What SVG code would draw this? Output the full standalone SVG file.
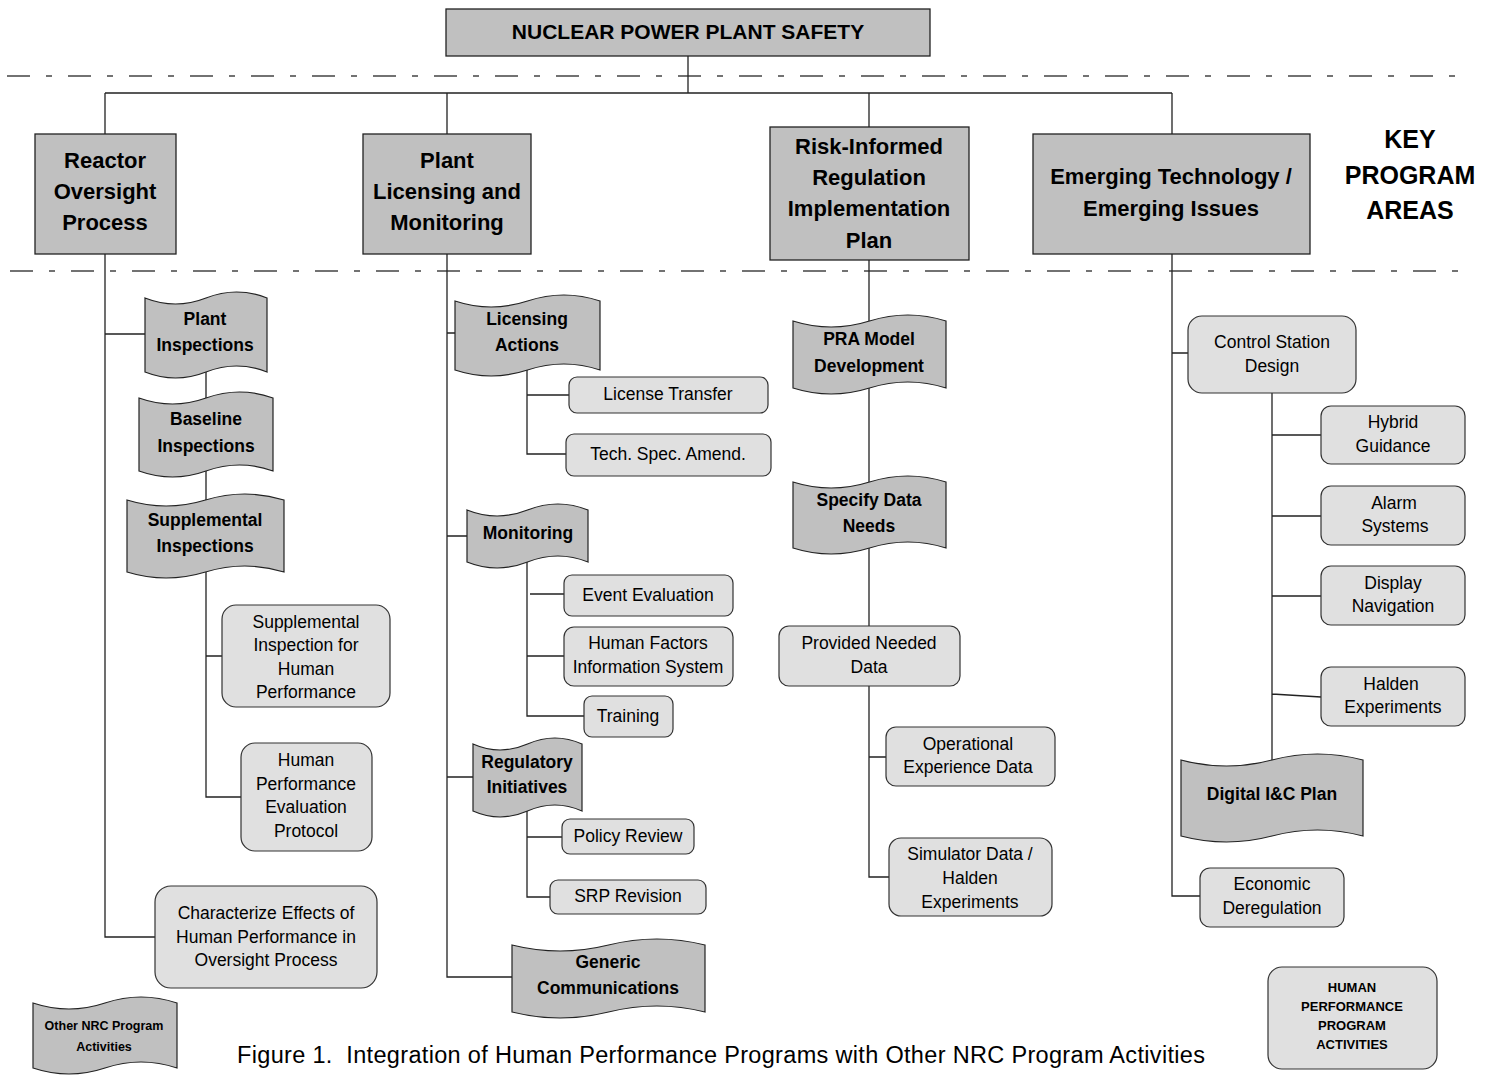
<svg xmlns="http://www.w3.org/2000/svg" width="1486" height="1078" viewBox="0 0 1486 1078">
<style>
.k{fill:#c0c0c0;stroke:#222;stroke-width:1.3}
.d{fill:#c0c0c0;stroke:#222;stroke-width:1.2}
.r{fill:#e0e0e0;stroke:#333;stroke-width:1.2}
.c{fill:none;stroke:#222;stroke-width:1.3}
.sep{fill:none;stroke:#444;stroke-width:1.3;stroke-dasharray:23 16 6 16}
text{font-family:"Liberation Sans",Arial,sans-serif;text-anchor:middle;fill:#000}
.tk{font-size:22px;font-weight:bold}
.tt{font-size:21px;font-weight:bold}
.tkey{font-size:25px;font-weight:bold}
.td{font-size:17.5px;font-weight:bold}
.tr{font-size:17.5px}
.ts{font-size:12.5px;font-weight:bold}
.tl{font-size:13px;font-weight:bold}
.cap{font-size:23.5px;text-anchor:start}
</style>

<g id="separators">
<line class="sep" x1="7" y1="76" x2="1470" y2="76"/>
<line class="sep" x1="10" y1="271" x2="1472" y2="271"/>
</g>

<g id="connectors">
<path class="c" d="M688,56 V93 M105,93 H1172 M105,93 V134 M447,93 V134 M869,93 V127 M1172,93 V134"/>
<path class="c" d="M105,254 V937 H155 M105,334 H145"/>
<path class="c" d="M206,372 V398 M206,471 V500 M206,572 V797 H241 M206,656 H222"/>
<path class="c" d="M447,254 V977 H512 M447,333 H455 M447,536 H467 M447,777 H473"/>
<path class="c" d="M527,370 V454 H566 M527,395 H569"/>
<path class="c" d="M527,562 V716 H584 M530,594 H564 M527,656 H564"/>
<path class="c" d="M527,811 V897 H550 M527,837 H562"/>
<path class="c" d="M869,260 V321 M869,388 V482 M869,548 V626"/>
<path class="c" d="M869,686 V877 H889 M869,757 H886"/>
<path class="c" d="M1172,254 V896 H1200 M1172,353 H1188"/>
<path class="c" d="M1272,393 V760 M1272,435 H1321 M1272,516 H1321 M1272,596 H1321 M1272,694 L1321,697"/>
</g>

<g id="n-top">
<rect class="k" x="446" y="9" width="484" height="47"/>
<text class="tt" x="688" y="39">NUCLEAR POWER PLANT SAFETY</text>
</g>

<g id="n-reactor">
<rect class="k" x="35" y="134" width="141" height="120"/>
<text class="tk"><tspan x="105" y="168">Reactor</tspan><tspan x="105" y="199">Oversight</tspan><tspan x="105" y="230">Process</tspan></text>
</g>
<g id="n-licensing">
<rect class="k" x="363" y="134" width="168" height="120"/>
<text class="tk"><tspan x="447" y="168">Plant</tspan><tspan x="447" y="199">Licensing and</tspan><tspan x="447" y="230">Monitoring</tspan></text>
</g>
<g id="n-risk">
<rect class="k" x="770" y="127" width="199" height="133"/>
<text class="tk"><tspan x="869" y="154">Risk-Informed</tspan><tspan x="869" y="185">Regulation</tspan><tspan x="869" y="216">Implementation</tspan><tspan x="869" y="248">Plan</tspan></text>
</g>
<g id="n-emerging">
<rect class="k" x="1033" y="134" width="277" height="120"/>
<text class="tk"><tspan x="1171" y="184">Emerging Technology /</tspan><tspan x="1171" y="216">Emerging Issues</tspan></text>
</g>
<g id="n-key">
<text class="tkey"><tspan x="1410" y="148">KEY</tspan><tspan x="1410" y="184">PROGRAM</tspan><tspan x="1410" y="219">AREAS</tspan></text>
</g>

<g id="n-plant-insp">
<path class="d" d="M145,298 Q175.5,310 206,298 T267,298 L267,372 Q236.5,360 206,372 T145,372 Z"/>
<text class="td"><tspan x="205" y="325">Plant</tspan><tspan x="205" y="351">Inspections</tspan></text>
</g>
<g id="n-baseline">
<path class="d" d="M139,398 Q172.5,410 206,398 T273,398 L273,471 Q239.5,459 206,471 T139,471 Z"/>
<text class="td"><tspan x="206" y="425">Baseline</tspan><tspan x="206" y="452">Inspections</tspan></text>
</g>
<g id="n-supp-insp">
<path class="d" d="M127,500 Q166,512 205.5,500 T284,500 L284,572 Q245,560 205.5,572 T127,572 Z"/>
<text class="td"><tspan x="205" y="526">Supplemental</tspan><tspan x="205" y="552">Inspections</tspan></text>
</g>
<g id="n-supp-hp">
<rect class="r" x="222" y="605" width="168" height="102" rx="14"/>
<text class="tr"><tspan x="306" y="628">Supplemental</tspan><tspan x="306" y="651">Inspection for</tspan><tspan x="306" y="675">Human</tspan><tspan x="306" y="698">Performance</tspan></text>
</g>
<g id="n-hpep">
<rect class="r" x="241" y="743" width="131" height="108" rx="14"/>
<text class="tr"><tspan x="306" y="766">Human</tspan><tspan x="306" y="790">Performance</tspan><tspan x="306" y="813">Evaluation</tspan><tspan x="306" y="837">Protocol</tspan></text>
</g>
<g id="n-characterize">
<rect class="r" x="155" y="886" width="222" height="102" rx="16"/>
<text class="tr"><tspan x="266" y="919">Characterize Effects of</tspan><tspan x="266" y="943">Human Performance in</tspan><tspan x="266" y="966">Oversight Process</tspan></text>
</g>

<g id="n-lic-actions">
<path class="d" d="M455,301 Q491,313 527.5,301 T600,301 L600,370 Q564,358 527.5,370 T455,370 Z"/>
<text class="td"><tspan x="527" y="325">Licensing</tspan><tspan x="527" y="351">Actions</tspan></text>
</g>
<g id="n-license-transfer">
<rect class="r" x="569" y="377" width="199" height="36" rx="8"/>
<text class="tr" x="668" y="400">License Transfer</text>
</g>
<g id="n-tech-spec">
<rect class="r" x="566" y="434" width="205" height="42" rx="8"/>
<text class="tr" x="668" y="460">Tech. Spec. Amend.</text>
</g>
<g id="n-monitoring">
<path class="d" d="M467,510 Q497,522 527.5,510 T588,510 L588,562 Q558,550 527.5,562 T467,562 Z"/>
<text class="td" x="528" y="539">Monitoring</text>
</g>
<g id="n-event-eval">
<rect class="r" x="564" y="575" width="169" height="41" rx="8"/>
<text class="tr" x="648" y="601">Event Evaluation</text>
</g>
<g id="n-hfis">
<rect class="r" x="564" y="627" width="169" height="59" rx="10"/>
<text class="tr"><tspan x="648" y="649">Human Factors</tspan><tspan x="648" y="673">Information System</tspan></text>
</g>
<g id="n-training">
<rect class="r" x="584" y="696" width="89" height="41" rx="8"/>
<text class="tr" x="628" y="722">Training</text>
</g>
<g id="n-reg-init">
<path class="d" d="M473,744 Q500,756 527.5,744 T582,744 L582,811 Q555,799 527.5,811 T473,811 Z"/>
<text class="td"><tspan x="527" y="768">Regulatory</tspan><tspan x="527" y="793">Initiatives</tspan></text>
</g>
<g id="n-policy">
<rect class="r" x="562" y="819" width="132" height="35" rx="8"/>
<text class="tr" x="628" y="842">Policy Review</text>
</g>
<g id="n-srp">
<rect class="r" x="550" y="880" width="156" height="34" rx="8"/>
<text class="tr" x="628" y="902">SRP Revision</text>
</g>
<g id="n-generic">
<path class="d" d="M512,945 Q560,957 608.5,945 T705,945 L705,1012 Q657,1000 608.5,1012 T512,1012 Z"/>
<text class="td"><tspan x="608" y="968">Generic</tspan><tspan x="608" y="994">Communications</tspan></text>
</g>

<g id="n-pra">
<path class="d" d="M793,321 Q831,333 869.5,321 T946,321 L946,388 Q908,376 869.5,388 T793,388 Z"/>
<text class="td"><tspan x="869" y="345">PRA Model</tspan><tspan x="869" y="372">Development</tspan></text>
</g>
<g id="n-specify">
<path class="d" d="M793,482 Q831,494 869.5,482 T946,482 L946,548 Q908,536 869.5,548 T793,548 Z"/>
<text class="td"><tspan x="869" y="506">Specify Data</tspan><tspan x="869" y="532">Needs</tspan></text>
</g>
<g id="n-provided">
<rect class="r" x="779" y="626" width="181" height="60" rx="10"/>
<text class="tr"><tspan x="869" y="649">Provided Needed</tspan><tspan x="869" y="673">Data</tspan></text>
</g>
<g id="n-operational">
<rect class="r" x="886" y="727" width="169" height="59" rx="10"/>
<text class="tr"><tspan x="968" y="750">Operational</tspan><tspan x="968" y="773">Experience Data</tspan></text>
</g>
<g id="n-simulator">
<rect class="r" x="889" y="838" width="163" height="78" rx="12"/>
<text class="tr"><tspan x="970" y="860">Simulator Data /</tspan><tspan x="970" y="884">Halden</tspan><tspan x="970" y="908">Experiments</tspan></text>
</g>

<g id="n-control">
<rect class="r" x="1188" y="316" width="168" height="77" rx="14"/>
<text class="tr"><tspan x="1272" y="348">Control Station</tspan><tspan x="1272" y="372">Design</tspan></text>
</g>
<g id="n-hybrid">
<rect class="r" x="1321" y="406" width="144" height="58" rx="10"/>
<text class="tr"><tspan x="1393" y="428">Hybrid</tspan><tspan x="1393" y="452">Guidance</tspan></text>
</g>
<g id="n-alarm">
<rect class="r" x="1321" y="486" width="144" height="59" rx="10"/>
<text class="tr"><tspan x="1394" y="509">Alarm</tspan><tspan x="1395" y="532">Systems</tspan></text>
</g>
<g id="n-display">
<rect class="r" x="1321" y="566" width="144" height="59" rx="10"/>
<text class="tr"><tspan x="1393" y="589">Display</tspan><tspan x="1393" y="612">Navigation</tspan></text>
</g>
<g id="n-halden">
<rect class="r" x="1321" y="667" width="144" height="59" rx="10"/>
<text class="tr"><tspan x="1391" y="690">Halden</tspan><tspan x="1393" y="713">Experiments</tspan></text>
</g>
<g id="n-digital">
<path class="d" d="M1181,760 Q1226.5,772 1272,760 T1363,760 L1363,836 Q1317.5,824 1272,836 T1181,836 Z"/>
<text class="td" x="1272" y="800">Digital I&amp;C Plan</text>
</g>
<g id="n-economic">
<rect class="r" x="1200" y="868" width="144" height="59" rx="10"/>
<text class="tr"><tspan x="1272" y="890">Economic</tspan><tspan x="1272" y="914">Deregulation</tspan></text>
</g>

<g id="legend-other">
<path class="d" d="M33,1003 Q69,1015 105,1003 T177,1003 L177,1068 Q141,1056 105,1068 T33,1068 Z"/>
<text class="ts"><tspan x="104" y="1030">Other NRC Program</tspan><tspan x="104" y="1051">Activities</tspan></text>
</g>
<g id="legend-hp">
<rect class="r" x="1268" y="967" width="169" height="102" rx="14"/>
<text class="tl"><tspan x="1352" y="992">HUMAN</tspan><tspan x="1352" y="1011">PERFORMANCE</tspan><tspan x="1352" y="1030">PROGRAM</tspan><tspan x="1352" y="1049">ACTIVITIES</tspan></text>
</g>

<text id="caption" class="cap" x="237" y="1063" textLength="968" lengthAdjust="spacing">Figure 1.&#160; Integration of Human Performance Programs with Other NRC Program Activities</text>
</svg>
